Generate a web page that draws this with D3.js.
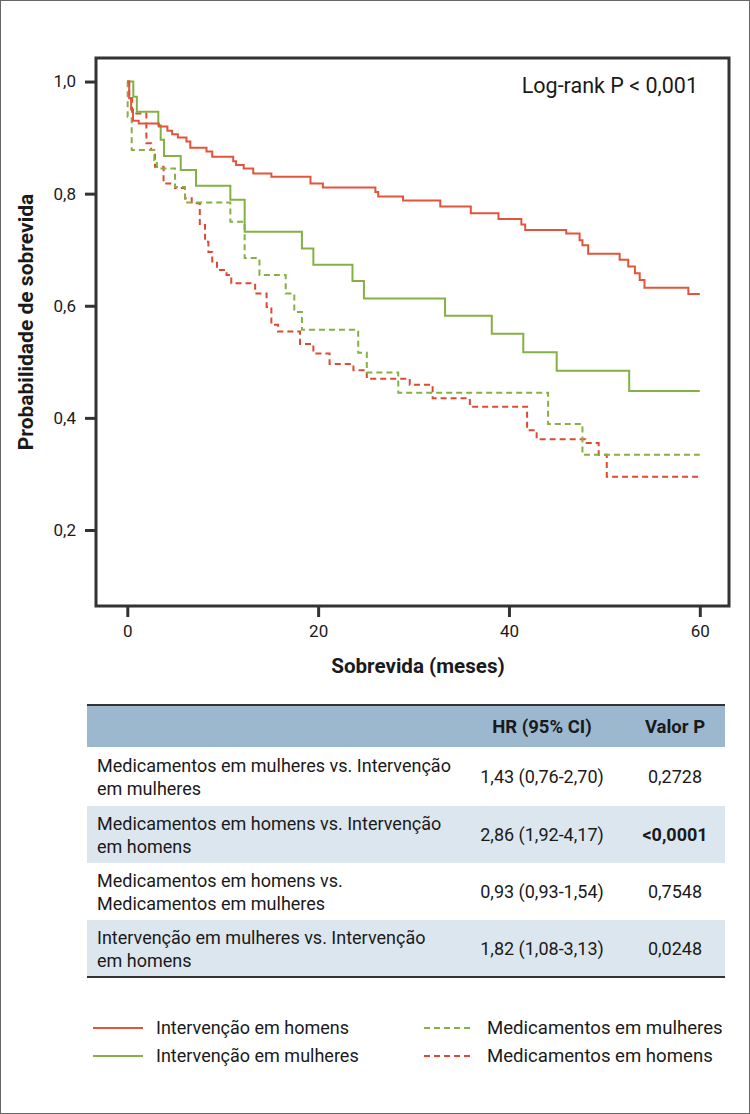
<!DOCTYPE html>
<html><head><meta charset="utf-8">
<script src="https://cdn.jsdelivr.net/npm/d3@7"></script>
<style>body{margin:0;background:#fff}svg{display:block}text{font-family:Roboto,"Liberation Sans",sans-serif;fill:#1a1a1a}</style>
</head><body>
<svg id="c" width="750" height="1114"></svg>
<script>
// ---- data ----
const xTicks = [0, 20, 40, 60];
const yTicks = [0.2, 0.4, 0.6, 0.8, 1.0];
const yTickLabels = ["0,2", "0,4", "0,6", "0,8", "1,0"];

// [time (months), survival probability]
const intervHomens = [[0,1],[0.2,0.97],[0.4,0.95],[0.6,0.93],[1.2,0.925],[3.3,0.92],[4.2,0.912],[4.7,0.906],[5.3,0.9],[6.2,0.893],[6.6,0.882],[8.3,0.875],[8.9,0.866],[11.1,0.858],[11.4,0.851],[12.2,0.845],[13.2,0.836],[15.1,0.83],[19.2,0.818],[20.5,0.811],[26.0,0.803],[26.3,0.795],[28.9,0.788],[32.8,0.777],[36.0,0.765],[38.9,0.755],[41.3,0.745],[41.7,0.735],[46.0,0.729],[47.4,0.717],[47.7,0.708],[48.3,0.693],[51.6,0.682],[52.5,0.67],[53.2,0.658],[53.7,0.646],[54.2,0.632],[58.8,0.621],[60,0.621]];
const intervMulheres = [[0,1],[0.63,0.973],[1.0,0.946],[3.25,0.922],[3.5,0.896],[3.85,0.867],[5.6,0.842],[7.2,0.814],[10.8,0.789],[12.3,0.732],[18.3,0.702],[19.5,0.673],[23.6,0.644],[24.8,0.613],[33.3,0.582],[38.2,0.55],[41.5,0.517],[45.0,0.484],[52.6,0.448],[60,0.448]];
const medMulheres = [[0,1],[0.04,0.937],[0.46,0.878],[2.83,0.86],[3.1,0.845],[5.0,0.812],[6.05,0.784],[10.8,0.75],[12.3,0.685],[13.85,0.655],[16.6,0.622],[17.5,0.589],[18.3,0.557],[24.2,0.516],[25.1,0.481],[28.4,0.445],[44.1,0.389],[47.7,0.334],[60,0.334]];
const medHomens = [[0,1],[0.2,0.97],[0.5,0.943],[2.0,0.89],[2.5,0.878],[2.9,0.848],[3.8,0.818],[5.0,0.81],[6.05,0.792],[6.75,0.783],[7.6,0.744],[8.15,0.714],[8.5,0.696],[8.9,0.679],[9.4,0.664],[10.4,0.655],[10.9,0.64],[13.4,0.622],[14.6,0.598],[15.1,0.566],[15.8,0.554],[18.1,0.532],[19.5,0.515],[21.2,0.496],[23.7,0.485],[25.1,0.47],[29.6,0.459],[32.0,0.435],[35.9,0.42],[41.9,0.378],[42.9,0.362],[48.0,0.355],[49.4,0.334],[50.25,0.295],[60,0.295]];

const seriesNames = ["Intervenção em homens", "Intervenção em mulheres", "Medicamentos em mulheres", "Medicamentos em homens"];
const seriesData = [intervHomens, intervMulheres, medMulheres, medHomens];

const tableHeader = ["", "HR (95% CI)", "Valor P"];
const tableComparisons = [
  ["Medicamentos em mulheres vs. Intervenção", "em mulheres"],
  ["Medicamentos em homens vs. Intervenção", "em homens"],
  ["Medicamentos em homens vs.", "Medicamentos em mulheres"],
  ["Intervenção em mulheres vs. Intervenção", "em homens"]
];
const tableHR = ["1,43 (0,76-2,70)", "2,86 (1,92-4,17)", "0,93 (0,93-1,54)", "1,82 (1,08-3,13)"];
const tableP = ["0,2728", "<0,0001", "0,7548", "0,0248"];
const pBold = [false, true, false, false];
const annotation = "Log-rank P < 0,001";

// ---- styles ----
const RED = "#e2553b", RED2 = "#dc4a30", GREEN = "#84b143";
const styles = [
  {color: RED, dash: null},
  {color: GREEN, dash: null},
  {color: GREEN, dash: "6,4"},
  {color: RED2, dash: "6,4"}
];

const svg = d3.select("#c");
svg.append("rect").attr("x",0.5).attr("y",0.5).attr("width",749).attr("height",1113)
  .attr("fill","none").attr("stroke","#666").attr("stroke-width",1);

const L = 96, R = 729, T = 58, B = 606;
const x = d3.scaleLinear().domain([-3.28, 63.06]).range([L, R]);
const y = d3.scaleLinear().domain([0.0644, 1.042]).range([B, T]);

const line = d3.line().x(d => x(d[0])).y(d => y(d[1])).curve(d3.curveStepAfter);
[3, 2, 1, 0].forEach(i => {
  svg.append("path").datum(seriesData[i]).attr("d", line)
    .attr("fill","none").attr("stroke", styles[i].color).attr("stroke-width", 2)
    .attr("stroke-dasharray", styles[i].dash);
});

svg.append("rect").attr("x",L).attr("y",T).attr("width",R-L).attr("height",B-T)
  .attr("fill","none").attr("stroke","#333").attr("stroke-width",3);

const xAxis = d3.axisBottom(x).tickValues(xTicks).tickSize(11).tickPadding(8).tickSizeOuter(0);
const gx = svg.append("g").attr("transform",`translate(0,${B})`).call(xAxis);
gx.select(".domain").remove();
gx.selectAll(".tick line").attr("stroke","#333").attr("stroke-width",3);
gx.selectAll(".tick text").attr("font-size",17).attr("fill","#1a1a1a").attr("font-family","Roboto");

const yAxis = d3.axisLeft(y).tickValues(yTicks).tickFormat((d,i)=>yTickLabels[i]).tickSize(11).tickPadding(9);
const gy = svg.append("g").attr("transform",`translate(${L},0)`).call(yAxis);
gy.select(".domain").remove();
gy.selectAll(".tick line").attr("stroke","#333").attr("stroke-width",3);
gy.selectAll(".tick text").attr("font-size",17).attr("fill","#1a1a1a").attr("font-family","Roboto");

svg.append("text").attr("x", 418).attr("y", 673).attr("text-anchor","middle")
  .attr("font-size",20.6).attr("font-weight","bold").text("Sobrevida (meses)");
svg.append("text").attr("transform","translate(33,322) rotate(-90)").attr("text-anchor","middle")
  .attr("font-size",21).attr("font-weight","bold").text("Probabilidade de sobrevida");

svg.append("text").attr("x", 698).attr("y", 93).attr("text-anchor","end")
  .attr("font-size",21.5).text(annotation);

// ---- table ----
const tL = 87, tR = 725, hTop = 705, hBot = 747;
const rowEdges = [747, 806, 863, 920, 977];
const colHR = 542, colP = 675;
svg.append("rect").attr("x",tL).attr("y",hTop).attr("width",tR-tL).attr("height",hBot-hTop).attr("fill","#9cb8cf");
tableComparisons.forEach((r,i) => {
  if (i % 2 === 1) svg.append("rect").attr("x",tL).attr("y",rowEdges[i]).attr("width",tR-tL)
    .attr("height",rowEdges[i+1]-rowEdges[i]).attr("fill","#dce6ef");
});
svg.append("line").attr("x1",tL).attr("x2",tR).attr("y1",hTop).attr("y2",hTop).attr("stroke","#333").attr("stroke-width",2);
svg.append("line").attr("x1",tL).attr("x2",tR).attr("y1",977).attr("y2",977).attr("stroke","#333").attr("stroke-width",2);

svg.append("text").attr("x",colHR).attr("y",733).attr("text-anchor","middle").attr("font-size",18.5).attr("font-weight","bold").text(tableHeader[1]);
svg.append("text").attr("x",colP).attr("y",733).attr("text-anchor","middle").attr("font-size",18.5).attr("font-weight","bold").text(tableHeader[2]);

tableComparisons.forEach((r,i) => {
  const top = rowEdges[i], bot = rowEdges[i+1], mid = (top+bot)/2;
  svg.append("text").attr("x",97).attr("y",mid-5).attr("font-size",18).text(r[0]);
  svg.append("text").attr("x",97).attr("y",mid+18).attr("font-size",18).text(r[1]);
  svg.append("text").attr("x",colHR).attr("y",mid+6.5).attr("text-anchor","middle").attr("font-size",18).text(tableHR[i]);
  svg.append("text").attr("x",colP).attr("y",mid+6.5).attr("text-anchor","middle").attr("font-size",18)
    .attr("font-weight", pBold[i] ? "bold" : null).text(tableP[i]);
});

// ---- legend ----
const legendPos = [[93,1028],[93,1056],[424,1028],[424,1056]];
const legendFont = [18, 18, 18.6, 18.6];
seriesNames.forEach((n,i) => {
  const [lx, ly] = legendPos[i];
  svg.append("line").attr("x1",lx).attr("x2",lx+50).attr("y1",ly).attr("y2",ly)
    .attr("stroke",styles[i].color).attr("stroke-width",2).attr("stroke-dasharray",styles[i].dash);
  svg.append("text").attr("x",lx+63).attr("y",ly+6).attr("font-size",legendFont[i]).text(n);
});
</script>
</body></html>
